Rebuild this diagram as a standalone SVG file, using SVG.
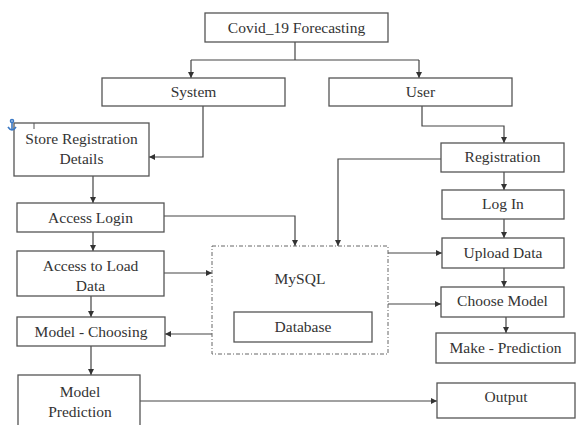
<svg xmlns="http://www.w3.org/2000/svg" width="576" height="425" viewBox="0 0 576 425">
<defs>
<marker id="ah" viewBox="0 0 10 10" refX="10" refY="5" markerWidth="6" markerHeight="6" orient="auto" markerUnits="userSpaceOnUse">
<path d="M0,0 L10,5 L0,10 Z" fill="#333"/>
</marker>
</defs>
<style>
.box{fill:#fff;stroke:#555;stroke-width:1.3}
text{font-size:15.5px;fill:#333;text-anchor:middle}
.c{fill:none;stroke:#444;stroke-width:1.2;marker-end:url(#ah)}
.cl{fill:none;stroke:#444;stroke-width:1.2}
.dash{fill:#fff;stroke:#666;stroke-width:1;stroke-dasharray:4 2 1 2}
</style>
<rect width="576" height="425" fill="#fff"/>
<g id="connectors">
<path class="cl" d="M295,42 V60"/>
<path class="c" d="M191,60 H419 M191,60 V78"/>
<path class="c" d="M419,60 V78"/>
<path class="c" d="M203,106 V157 H149"/>
<path class="c" d="M93,176 V203"/>
<path class="c" d="M164,216 H295 V246"/>
<path class="c" d="M93,232 V251"/>
<path class="c" d="M164,273 H212"/>
<path class="c" d="M91,296 V317"/>
<path class="c" d="M212,334 H165"/>
<path class="c" d="M91,346 V375"/>
<path class="c" d="M140,401 H437"/>
<path class="c" d="M422,106 V126 H504 V143"/>
<path class="c" d="M441,159 H338 V246"/>
<path class="c" d="M504,172 V190"/>
<path class="c" d="M504,219 V238"/>
<path class="c" d="M388,253 H442"/>
<path class="c" d="M504,268 V287"/>
<path class="c" d="M388,304 H441"/>
<path class="c" d="M506,317 V333"/>
</g>
<g id="covid"><rect class="box" x="205" y="13" width="183" height="29"/><text font-family="Liberation Serif" x="296.5" y="33">Covid_19 Forecasting</text></g>
<g id="system"><rect class="box" x="102" y="78" width="183" height="28"/><text font-family="Liberation Serif" x="193.5" y="97">System</text></g>
<g id="user"><rect class="box" x="329" y="78" width="183" height="28"/><text font-family="Liberation Serif" x="420.5" y="97">User</text></g>
<g id="storereg"><rect class="box" x="14" y="123" width="135" height="53"/><text font-family="Liberation Serif" x="81.5" y="144">Store Registration</text><text font-family="Liberation Serif" x="81.5" y="164">Details</text>
<path d="M34,123 V129" stroke="#555" stroke-width="1"/>
<g fill="none" stroke="#3a78c4" stroke-width="1.6"><path d="M12,122 V130"/><circle cx="12" cy="121" r="1.5"/><path d="M8,127 Q12,133 16,127"/></g></g>
<g id="accesslogin"><rect class="box" x="17" y="203" width="147" height="29"/><text font-family="Liberation Serif" x="90.5" y="223">Access Login</text></g>
<g id="accessload"><rect class="box" x="17" y="251" width="147" height="45"/><text font-family="Liberation Serif" x="90.5" y="271">Access to Load</text><text font-family="Liberation Serif" x="90.5" y="291">Data</text></g>
<g id="modelchoosing"><rect class="box" x="17" y="317" width="148" height="29"/><text font-family="Liberation Serif" x="91" y="337">Model - Choosing</text></g>
<g id="modelprediction"><rect class="box" x="18" y="375" width="122" height="60"/><text font-family="Liberation Serif" x="80" y="397">Model</text><text font-family="Liberation Serif" x="80" y="417">Prediction</text></g>
<g id="mysql"><rect class="dash" x="212" y="246" width="176" height="108"/><text font-family="Liberation Serif" x="300" y="284">MySQL</text>
<rect class="box" x="234" y="312" width="138" height="30"/><text font-family="Liberation Serif" x="303" y="332">Database</text></g>
<g id="registration"><rect class="box" x="441" y="143" width="123" height="29"/><text font-family="Liberation Serif" x="502.5" y="162">Registration</text></g>
<g id="login"><rect class="box" x="442" y="190" width="122" height="29"/><text font-family="Liberation Serif" x="503" y="209">Log In</text></g>
<g id="upload"><rect class="box" x="442" y="238" width="122" height="30"/><text font-family="Liberation Serif" x="503" y="258">Upload Data</text></g>
<g id="choosemodel"><rect class="box" x="441" y="287" width="123" height="30"/><text font-family="Liberation Serif" x="502.5" y="306">Choose Model</text></g>
<g id="makeprediction"><rect class="box" x="436" y="333" width="139" height="30"/><text font-family="Liberation Serif" x="505.5" y="353">Make - Prediction</text></g>
<g id="output"><rect class="box" x="437" y="383" width="138" height="35"/><text font-family="Liberation Serif" x="506" y="402">Output</text></g>
</svg>
